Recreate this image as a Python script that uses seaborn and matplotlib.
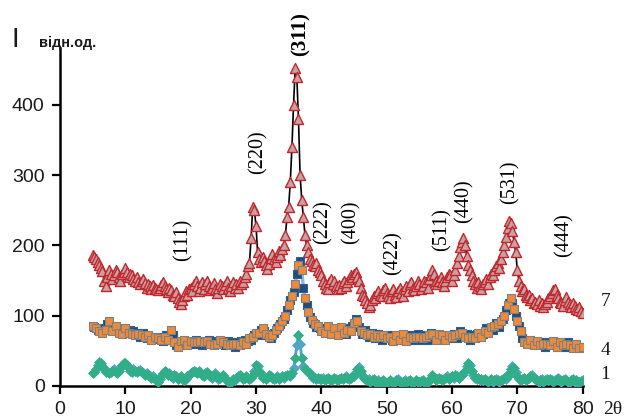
import numpy as np
import pandas as pd
import matplotlib
matplotlib.use("Agg")
import matplotlib.pyplot as plt
import seaborn as sns

# Scan grid, degrees 2-theta
two_theta = np.round(np.arange(5.0, 80.001, 0.25), 2)

# Sample 7 intensity (rel. units), rows of 5 degrees
sample7 = [
    186, 183, 180, 176, 172, 168, 163, 150, 142, 155, 165, 160, 152, 158, 165, 162, 155, 150, 160, 162,
    168, 162, 155, 160, 158, 152, 150, 155, 148, 145, 150, 152, 146, 140, 145, 142, 138, 144, 140, 138,
    136, 140, 144, 148, 142, 138, 134, 140, 136, 130, 128, 134, 125, 120, 116, 122, 128, 135, 130, 138,
    140, 135, 145, 150, 142, 135, 140, 148, 138, 145, 150, 142, 136, 140, 146, 138, 132, 140, 145, 142,
    138, 144, 150, 140, 135, 142, 148, 140, 145, 140, 150, 145, 148, 155, 160, 170, 175, 210, 255, 250,
    228, 190, 180, 176, 184, 178, 172, 166, 174, 182, 188, 180, 176, 184, 192, 186, 195, 200, 215, 240,
    255, 290, 340, 400, 452, 440, 380, 300, 265, 240, 215, 200, 190, 180, 178, 172, 170, 175, 165, 162,
    158, 150, 145, 140, 138, 148, 152, 145, 150, 142, 138, 144, 140, 146, 150, 142, 148, 152, 158, 155,
    160, 162, 155, 150, 140, 130, 128, 122, 118, 112, 115, 122, 128, 125, 132, 135, 130, 128, 136, 140,
    132, 128, 125, 135, 138, 130, 126, 135, 140, 132, 128, 138, 142, 135, 145, 148, 140, 136, 142, 150,
    145, 138, 142, 150, 148, 140, 152, 158, 165, 160, 150, 145, 150, 155, 148, 142, 150, 155, 160, 158,
    150, 158, 165, 175, 185, 198, 205, 210, 200, 185, 172, 165, 158, 150, 145, 140, 148, 142, 138, 145,
    148, 152, 145, 155, 160, 158, 165, 170, 175, 168, 180, 190, 200, 212, 225, 235, 232, 220, 205, 190,
    165, 150, 142, 135, 138, 130, 126, 130, 122, 125, 118, 120, 116, 122, 114, 118, 112, 116, 120, 125,
    128, 132, 136, 138, 130, 125, 120, 118, 114, 122, 126, 120, 116, 112, 118, 114, 110, 108, 112, 106,
    104,
]

# Sample 4 intensity
sample4 = [
    86, 84, 82, 80, 78, 80, 76, 82, 80, 88, 92, 85, 78, 82, 86, 80, 76, 78, 74, 80,
    82, 78, 76, 80, 74, 78, 72, 76, 74, 70, 72, 75, 70, 68, 72, 70, 66, 68, 70, 67,
    68, 70, 66, 64, 70, 72, 65, 68, 80, 72, 62, 58, 56, 60, 64, 62, 66, 60, 58, 62,
    64, 60, 62, 66, 62, 60, 64, 58, 62, 60, 64, 66, 60, 62, 58, 64, 60, 62, 66, 60,
    62, 58, 60, 64, 58, 62, 60, 56, 60, 62, 58, 64, 62, 66, 60, 64, 68, 66, 70, 72,
    75, 72, 76, 80, 82, 78, 74, 72, 70, 68, 72, 76, 80, 82, 86, 88, 92, 95, 100, 108,
    115, 122, 128, 134, 145, 160, 172, 178, 165, 140, 125, 115, 105, 98, 94, 90, 88, 84, 86, 82,
    78, 82, 76, 80, 85, 78, 74, 80, 82, 76, 72, 78, 84, 80, 76, 74, 80, 82, 78, 86,
    90, 96, 92, 84, 78, 74, 76, 80, 72, 70, 74, 76, 70, 68, 72, 74, 70, 66, 72, 70,
    68, 72, 70, 66, 64, 70, 72, 68, 66, 70, 74, 68, 64, 66, 70, 72, 68, 66, 70, 74,
    70, 66, 68, 72, 70, 66, 72, 76, 74, 70, 66, 70, 74, 68, 72, 70, 66, 70, 72, 68,
    70, 74, 72, 68, 74, 78, 76, 72, 70, 74, 68, 66, 70, 72, 68, 74, 76, 72, 70, 74,
    78, 82, 76, 80, 84, 80, 86, 90, 88, 84, 92, 96, 100, 108, 115, 118, 125, 118, 110, 100,
    92, 86, 78, 68, 62, 64, 60, 62, 66, 60, 58, 62, 64, 60, 58, 62, 60, 56, 60, 62,
    58, 60, 64, 60, 56, 58, 62, 60, 58, 56, 60, 62, 58, 56, 54, 58, 60, 56, 54, 56,
    55,
]

# Sample 1 intensity
sample1 = [
    18, 20, 24, 30, 34, 32, 28, 24, 20, 22, 18, 20, 22, 24, 20, 18, 22, 26, 30, 32,
    33, 30, 26, 22, 20, 24, 22, 20, 22, 23, 20, 18, 16, 18, 15, 14, 12, 14, 10, 8,
    6, 10, 14, 18, 22, 20, 16, 18, 14, 12, 16, 14, 10, 12, 14, 10, 8, 10, 14, 16,
    18, 20, 22, 20, 18, 22, 20, 16, 14, 18, 20, 16, 14, 12, 16, 18, 14, 10, 12, 14,
    16, 12, 8, 6, 4, 6, 10, 8, 12, 14, 16, 14, 10, 12, 14, 12, 10, 12, 16, 22,
    30, 28, 22, 16, 12, 14, 10, 12, 16, 14, 12, 10, 12, 14, 10, 12, 14, 12, 14, 16,
    15, 14, 18, 25, 40, 58, 72, 60, 40, 28, 24, 22, 20, 18, 14, 12, 12, 10, 12, 10,
    10, 12, 8, 10, 12, 10, 8, 10, 12, 10, 8, 10, 12, 10, 12, 14, 12, 10, 12, 14,
    14, 18, 24, 27, 22, 16, 12, 10, 8, 10, 6, 8, 10, 6, 4, 8, 6, 5, 8, 6,
    4, 6, 8, 6, 4, 5, 8, 10, 6, 4, 6, 8, 5, 7, 9, 6, 4, 6, 8, 6,
    5, 7, 9, 6, 4, 6, 8, 12, 16, 12, 8, 10, 12, 10, 8, 10, 12, 14, 10, 12,
    14, 12, 16, 14, 12, 14, 16, 18, 22, 28, 33, 30, 22, 16, 12, 10, 12, 8, 10, 8,
    10, 8, 6, 8, 10, 6, 8, 10, 8, 6, 8, 10, 12, 10, 14, 18, 24, 28, 26, 20,
    14, 10, 8, 10, 12, 8, 10, 12, 14, 16, 12, 10, 8, 6, 8, 10, 6, 8, 10, 8,
    10, 8, 6, 8, 10, 12, 8, 6, 8, 10, 8, 6, 5, 8, 10, 6, 8, 6, 5, 7,
    8,
]

# Reflection indices and where their labels sit (2-theta, intensity)
hkl_labels = ["(111)", "(220)", "(311)", "(222)", "(400)", "(422)", "(511)", "(440)", "(531)", "(444)"]
hkl_x = [18.8, 30.3, 36.9, 40.2, 44.6, 50.9, 58.4, 61.9, 68.8, 77.2]
hkl_y = [208, 333, 500, 233, 233, 189, 222, 263, 290, 215]

curve_names = ["7", "4", "1"]
curve_name_y = [120, 51, 16]

x_ticks = [0, 10, 20, 30, 40, 50, 60, 70, 80]
y_ticks = [0, 100, 200, 300, 400]

df = pd.DataFrame({"tt": two_theta, "s7": sample7, "s4": sample4, "s1": sample1})
even = df.iloc[::2]
odd = df.iloc[1::2]

sns.set_style("white")
plt.rcParams["font.family"] = ["Liberation Sans", "DejaVu Sans"]

fig = plt.figure(figsize=(6.26, 4.2), dpi=100)
ax = fig.add_axes([0.0958, 0.081, 0.835, 0.805])

# sample 7: black line, red-edged triangles
sns.lineplot(data=df, x="tt", y="s7", ax=ax, color="black", lw=1.2,
             estimator=None, sort=False, zorder=2)
sns.scatterplot(data=df, x="tt", y="s7", ax=ax, marker="^", s=52,
                color="#c8a2a2", edgecolor="#c1272d", linewidth=1.0, zorder=3)

# sample 4: light blue line, navy and orange squares
sns.lineplot(data=df, x="tt", y="s4", ax=ax, color="#8db8e0", lw=2.4,
             estimator=None, sort=False, zorder=4)
sns.scatterplot(data=odd, x="tt", y="s4", ax=ax, marker="s", s=34,
                color="#1f4e79", edgecolor="#2e5f8f", linewidth=0.8, zorder=5)
sns.scatterplot(data=even, x="tt", y="s4", ax=ax, marker="s", s=34,
                color="#ee8a3a", edgecolor="#808080", linewidth=0.8, zorder=6)

# sample 1: blue line, teal diamonds
sns.lineplot(data=df, x="tt", y="s1", ax=ax, color="#4f9fcc", lw=2.0,
             estimator=None, sort=False, zorder=7)
sns.scatterplot(data=odd, x="tt", y="s1", ax=ax, marker="D", s=26,
                color="#4fa6c4", edgecolor="#4fa6c4", linewidth=0.5, zorder=8)
sns.scatterplot(data=even, x="tt", y="s1", ax=ax, marker="D", s=26,
                color="#2fae88", edgecolor="#2fae88", linewidth=0.5, zorder=9)

ax.set_xlim(0, 80)
ax.set_ylim(0, 481)
ax.set_xticks(x_ticks)
ax.set_yticks(y_ticks)
ax.set_xlabel("")
ax.set_ylabel("")
for side in ("top", "right"):
    ax.spines[side].set_visible(False)
for side in ("left", "bottom"):
    ax.spines[side].set_color("black")
    ax.spines[side].set_linewidth(1.8)
ax.tick_params(axis="both", direction="out", length=6, width=1.6, color="black",
               labelsize=14, labelcolor="#1a1a1a", pad=5, bottom=True, left=True)

serif = ["Liberation Serif", "DejaVu Serif"]
for lab, hx, hy in zip(hkl_labels, hkl_x, hkl_y):
    bold = lab == "(311)"
    ax.text(hx, hy, lab, rotation=90, ha="center", va="center",
            fontsize=15 if bold else 14.5, fontweight="bold" if bold else "normal",
            family=serif, color="black", clip_on=False, zorder=10)

for name, ny in zip(curve_names, curve_name_y):
    ax.text(83.5, ny, name, ha="center", va="center", fontsize=14,
            family=serif, color="#1a1a1a", clip_on=False)

fig.text(0.978, 0.026, "2θ", ha="center", va="center", fontsize=14,
         family=serif, color="#1a1a1a")
fig.text(0.025, 0.905, "I", ha="center", va="center", fontsize=20, color="#1a1a1a")
fig.text(0.063, 0.897, "відн.од.", ha="left", va="center", fontsize=10.5,
         fontweight="bold", color="#1a1a1a")

fig.savefig("out.png", dpi=100)
